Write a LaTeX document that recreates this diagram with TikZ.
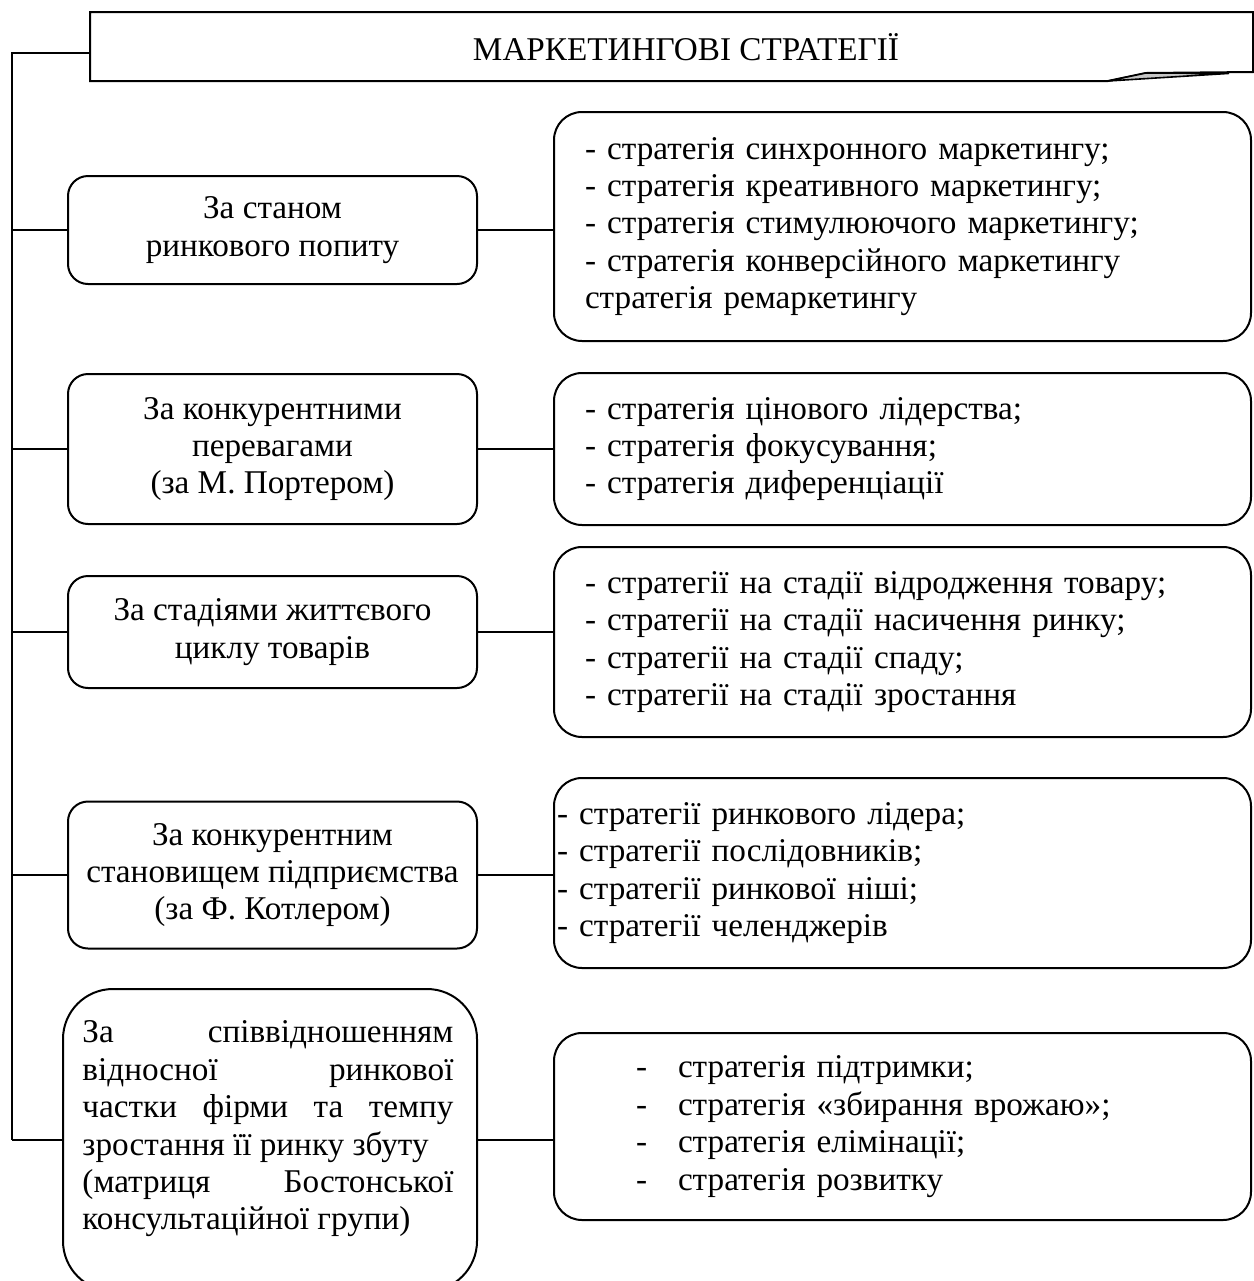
\documentclass[tikz,border=0pt]{standalone}
\usepackage{fontspec}
\setmainfont{Liberation Serif}
\begin{document}
\begin{tikzpicture}[x=0.5pt,y=-0.5pt,line width=1pt,
  every node/.style={font=\fontsize{16.6}{18.7}\selectfont,inner sep=0pt},
  lbox/.style={draw,rounded corners=10pt,align=center,minimum width=204.5pt},
  rbox/.style={draw,rounded corners=14pt,align=left,inner xsep=15.5pt,text width=317.5pt},
  conn/.style={line width=1pt}]
\useasboundingbox (0,0) rectangle (1254,1281);
\clip (0,0) rectangle (1254,1281);
% title banner
\node[minimum width=580.5pt,minimum height=33.5pt] (banner) at (671.5,46.5) {};
\node (title) at (686,47) {МАРКЕТИНГОВІ СТРАТЕГІЇ};
\draw (banner.north west) -- (banner.north east) -- ([yshift=4.5pt]banner.south east)
  -- ([xshift=-53.5pt,yshift=4pt]banner.south east) -- ([xshift=-72.5pt]banner.south east) -- (banner.south west) -- cycle;
\filldraw[fill=gray!45,line width=0.8pt] ([xshift=-72.5pt]banner.south east) -- ([xshift=-53.5pt,yshift=4pt]banner.south east) -- ([xshift=-12pt,yshift=3.8pt]banner.south east) -- cycle;
% left boxes
\node[lbox,minimum height=54pt] (l1) at (272.5,230) {За станом\\ринкового попиту};
\node[lbox,minimum height=75pt] (l2) at (272.5,449) {За конкурентними\\перевагами\\(за М. Портером)};
\node[lbox,minimum height=56pt] (l3) at (272.5,632) {За стадіями життєвого\\циклу товарів};
\node[lbox,minimum height=73.5pt] (l4) at (272.5,875) {За конкурентним\\становищем підприємства\\(за Ф. Котлером)};
\node[draw,rounded corners=25pt,minimum width=207pt,minimum height=151pt] (l5) at (270,1140) {};
\node[text width=185.5pt,align=justify] (l5t) at (268,1129)
  {\noindent За співвідношенням\linebreak відносної ринкової\linebreak частки фірми та темпу\linebreak зростання її ринку збуту\newline (матриця Бостонської\linebreak консультаційної групи)};
% right boxes
\node[rbox,minimum height=114.5pt] (r1) at (902.5,226.5) {- стратегія синхронного маркетингу;\\- стратегія креативного маркетингу;\\- стратегія стимулюючого маркетингу;\\- стратегія конверсійного маркетингу\\стратегія ремаркетингу};
\node[rbox,minimum height=76pt] (r2) at (902.5,449) {- стратегія цінового лідерства;\\- стратегія фокусування;\\- стратегія диференціації};
\node[rbox,minimum height=95pt] (r3) at (902.5,642) {- стратегії на стадії відродження товару;\\- стратегії на стадії насичення ринку;\\- стратегії на стадії спаду;\\- стратегії на стадії зростання};
\node[rbox,minimum height=95pt,inner xsep=1.5pt,text width=345.5pt] (r4) at (902.5,873) {- стратегії ринкового лідера;\\- стратегії послідовників;\\- стратегії ринкової ніші;\\- стратегії челенджерів};
\node[rbox,minimum height=93.5pt,inner xsep=41pt,text width=266.5pt] (r5) at (902.5,1126.5) {\makebox[21pt][l]{-}стратегія підтримки;\\\makebox[21pt][l]{-}стратегія «збирання врожаю»;\\\makebox[21pt][l]{-}стратегія елімінації;\\\makebox[21pt][l]{-}стратегія розвитку};
% spine
\coordinate (c0) at (12,52.5);
\coordinate (s1) at (12,230);
\coordinate (s2) at (12,449);
\coordinate (s3) at (12,632);
\coordinate (s4) at (12,875);
\coordinate (s5) at (12,1140);
\draw[conn] (banner.west |- c0) -- (c0) -- (s5);
\draw[conn] (s1) -- (s1 -| l1.west);
\draw[conn] (s2) -- (s2 -| l2.west);
\draw[conn] (s3) -- (s3 -| l3.west);
\draw[conn] (s4) -- (s4 -| l4.west);
\draw[conn] (s5) -- (s5 -| l5.west);
\draw[conn] (l1.east) -- (l1.east -| r1.west);
\draw[conn] (l2.east) -- (l2.east -| r2.west);
\draw[conn] (l3.east) -- (l3.east -| r3.west);
\draw[conn] (l4.east) -- (l4.east -| r4.west);
\draw[conn] (l5.east) -- (l5.east -| r5.west);
\end{tikzpicture}
\end{document}
